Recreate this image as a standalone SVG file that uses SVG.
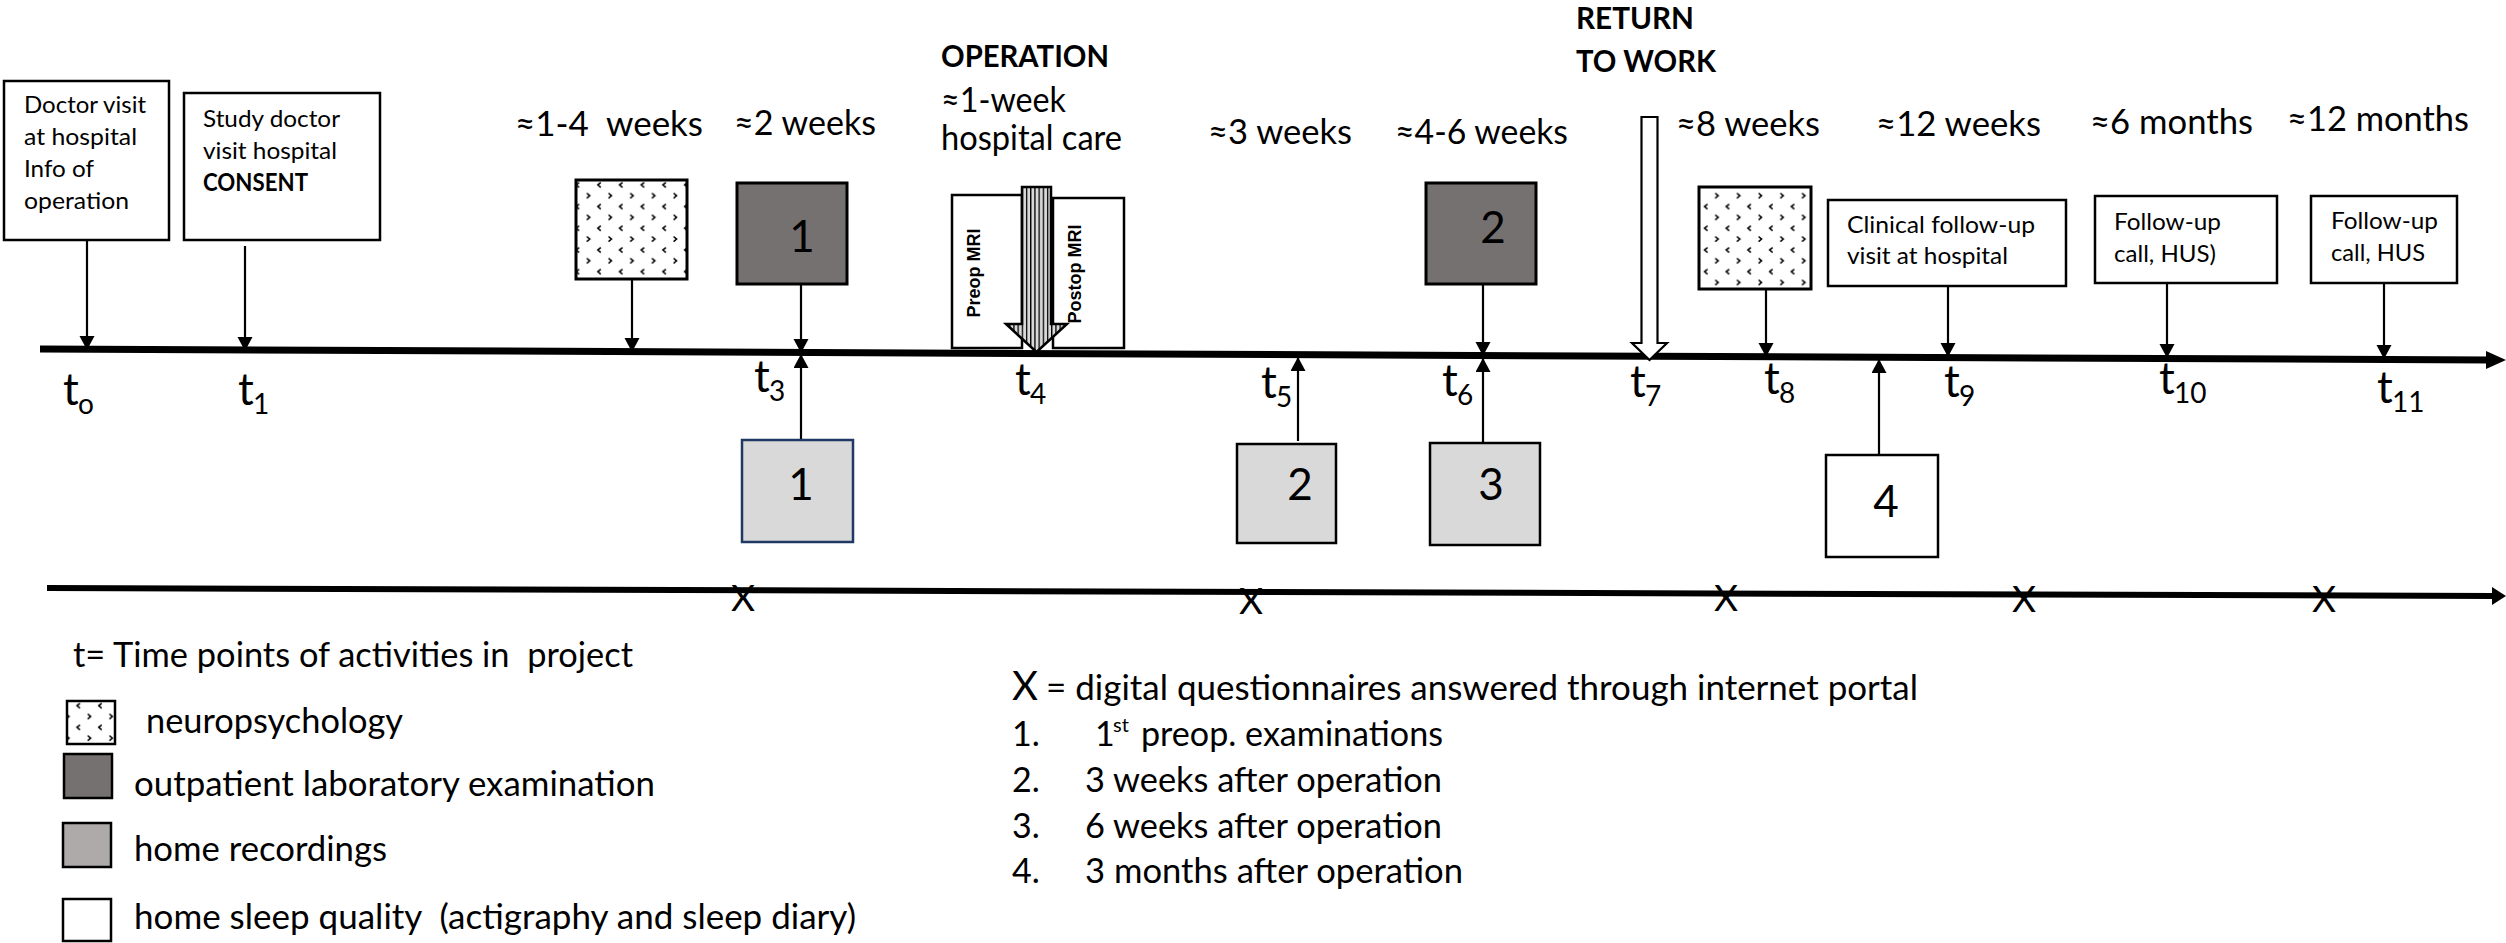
<svg xmlns="http://www.w3.org/2000/svg" width="2506" height="943" viewBox="0 0 2506 943">
<style>
text{font-family:Lato,"DejaVu Sans","Liberation Sans",sans-serif;fill:#000}
.hdr{font-size:34px}
.bld{font-size:31px;font-weight:bold}
.bx{font-size:24px}
.bxb{font-size:24px;font-weight:bold}
.num{font-size:44px;text-anchor:middle}
.tt{font-size:44px}
.ts{font-size:28px}
.lg{font-size:34px}
.mri{font-family:"Liberation Sans",Arial,sans-serif;font-size:18px;font-weight:bold;text-anchor:middle}
.xm{font-size:37px;text-anchor:middle}
.wb{fill:#fff;stroke:#000;stroke-width:2.5}
.dk{fill:#767171;stroke:#000;stroke-width:3}
.lt{fill:#d9d9d9;stroke:#000;stroke-width:2.5}
.np{fill:url(#neuro);stroke:#000;stroke-width:3}
.con{stroke:#000;stroke-width:2.2;fill:none;marker-end:url(#ah)}
</style>
<defs>
<marker id="ah" markerUnits="userSpaceOnUse" markerWidth="16" markerHeight="16" refX="14" refY="7.5" orient="auto">
<path d="M0,0 L14,7.5 L0,15 z" fill="#000"/>
</marker>
<pattern id="neuro" patternUnits="userSpaceOnUse" x="583.3" y="190.7" width="21.7" height="21.7">
<rect width="21.7" height="21.7" fill="#fff"/>
<polyline points="3.5,2.5 6.5,5 3.5,7.5" fill="none" stroke="#000" stroke-width="1.5"/>
<polyline points="17.5,13.4 14.5,15.9 17.5,18.4" fill="none" stroke="#000" stroke-width="1.5"/>
</pattern>
<pattern id="stripe" patternUnits="userSpaceOnUse" x="1021.7" y="0" width="4.2" height="10">
<rect width="4.2" height="10" fill="#d9d9d9"/>
<rect x="0" width="1.3" height="10" fill="#000"/>
</pattern>
</defs>

<g id="timelines">
<line x1="40" y1="349" x2="2490" y2="360" stroke="#000" stroke-width="7"/>
<path d="M2486,351 L2506,360 L2486,369 z" fill="#000"/>
<line x1="47" y1="588" x2="2494" y2="596" stroke="#000" stroke-width="6"/>
<path d="M2492,587 L2506,596 L2492,605 z" fill="#000"/>
</g>

<g id="connectors">
<line class="con" x1="87" y1="240" x2="87" y2="350"/>
<line class="con" x1="245" y1="246" x2="245" y2="351"/>
<line class="con" x1="632" y1="280" x2="632" y2="352"/>
<line class="con" x1="801" y1="284" x2="801" y2="353"/>
<line class="con" x1="1483" y1="284" x2="1483" y2="356"/>
<line class="con" x1="1766" y1="289" x2="1766" y2="357"/>
<line class="con" x1="1948" y1="286" x2="1948" y2="357"/>
<line class="con" x1="2167" y1="283" x2="2167" y2="358"/>
<line class="con" x1="2384" y1="283" x2="2384" y2="359"/>
<line class="con" x1="801" y1="440" x2="801" y2="354"/>
<line class="con" x1="1298" y1="441" x2="1298" y2="357"/>
<line class="con" x1="1483" y1="447" x2="1483" y2="358"/>
<line class="con" x1="1879" y1="455" x2="1879" y2="359"/>
</g>

<g id="t0-doctor-visit">
<rect class="wb" x="4" y="81" width="165" height="159"/>
<text class="bx" x="24" y="113" textLength="122" lengthAdjust="spacingAndGlyphs">Doctor visit</text>
<text class="bx" x="24" y="145" textLength="113" lengthAdjust="spacingAndGlyphs">at hospital</text>
<text class="bx" x="24" y="177" textLength="70" lengthAdjust="spacingAndGlyphs">Info of</text>
<text class="bx" x="24" y="209" textLength="105" lengthAdjust="spacingAndGlyphs">operation</text>
</g>

<g id="t1-study-doctor">
<rect class="wb" x="184" y="93" width="196" height="147"/>
<text class="bx" x="203" y="127" textLength="137" lengthAdjust="spacingAndGlyphs">Study doctor</text>
<text class="bx" x="203" y="159" textLength="134" lengthAdjust="spacingAndGlyphs">visit hospital</text>
<text class="bxb" x="203" y="191" textLength="105" lengthAdjust="spacingAndGlyphs">CONSENT</text>
</g>

<g id="neuro-1">
<text class="hdr" x="515" y="136" textLength="188" lengthAdjust="spacingAndGlyphs" xml:space="preserve">≈1-4  weeks</text>
<rect class="np" x="576" y="180" width="111" height="99"/>
</g>

<g id="lab-1">
<text class="hdr" x="734" y="135" textLength="142" lengthAdjust="spacingAndGlyphs">≈2 weeks</text>
<rect class="dk" x="737" y="183" width="110" height="101"/>
<text class="num" x="802" y="252">1</text>
</g>

<g id="operation">
<text class="bld" x="941" y="67" textLength="168" lengthAdjust="spacingAndGlyphs">OPERATION</text>
<text class="hdr" x="941" y="112" textLength="125" lengthAdjust="spacingAndGlyphs">≈1-week</text>
<text class="hdr" x="941" y="150" textLength="181" lengthAdjust="spacingAndGlyphs">hospital care</text>
<rect class="wb" x="952" y="195" width="70" height="153"/>
<rect class="wb" x="1053" y="198" width="71" height="150"/>
<text class="mri" transform="translate(980,273) rotate(-90)">Preop MRI</text>
<text class="mri" transform="translate(1081,274) rotate(-90)">Postop MRI</text>
<path d="M1022,187 L1051,187 L1051,324 L1067,324 L1036.5,352 L1006,324 L1022,324 z" fill="url(#stripe)" stroke="#000" stroke-width="2.5"/>
</g>

<g id="home-2">
<text class="hdr" x="1208" y="144" textLength="144" lengthAdjust="spacingAndGlyphs">≈3 weeks</text>
<rect class="lt" x="1237" y="444" width="99" height="99"/>
<text class="num" x="1300" y="500">2</text>
</g>

<g id="lab-2">
<text class="hdr" x="1395" y="144" textLength="173" lengthAdjust="spacingAndGlyphs">≈4-6 weeks</text>
<rect class="dk" x="1426" y="183" width="110" height="101"/>
<text class="num" x="1493" y="243">2</text>
</g>

<g id="home-1">
<rect x="742" y="440" width="111" height="102" fill="#d9d9d9" stroke="#1f3864" stroke-width="2.5"/>
<text class="num" x="801" y="500">1</text>
</g>

<g id="home-3">
<rect class="lt" x="1430" y="443" width="110" height="102"/>
<text class="num" x="1491" y="500">3</text>
</g>

<g id="return-to-work">
<text class="bld" x="1576" y="29" textLength="118" lengthAdjust="spacingAndGlyphs">RETURN</text>
<text class="bld" x="1576" y="72" textLength="140" lengthAdjust="spacingAndGlyphs">TO WORK</text>
<path d="M1641.5,117 L1657.5,117 L1657.5,343 L1667,343 L1649.5,360 L1632,343 L1641.5,343 z" fill="#fff" stroke="#000" stroke-width="2.2"/>
</g>

<g id="neuro-2">
<text class="hdr" x="1676" y="136" textLength="144" lengthAdjust="spacingAndGlyphs">≈8 weeks</text>
<rect class="np" x="1699" y="187" width="112" height="102"/>
</g>

<g id="clinical-follow-up">
<text class="hdr" x="1876" y="136" textLength="165" lengthAdjust="spacingAndGlyphs">≈12 weeks</text>
<rect class="wb" x="1828" y="200" width="238" height="86"/>
<text class="bx" x="1847" y="233" textLength="188" lengthAdjust="spacingAndGlyphs">Clinical follow-up</text>
<text class="bx" x="1847" y="264" textLength="161" lengthAdjust="spacingAndGlyphs">visit at hospital</text>
</g>

<g id="sleep-4">
<rect class="wb" x="1826" y="455" width="112" height="102"/>
<text class="num" x="1886" y="517">4</text>
</g>

<g id="follow-up-6m">
<text class="hdr" x="2090" y="134" textLength="163" lengthAdjust="spacingAndGlyphs">≈6 months</text>
<rect class="wb" x="2095" y="196" width="182" height="87"/>
<text class="bx" x="2114" y="230" textLength="107" lengthAdjust="spacingAndGlyphs">Follow-up</text>
<text class="bx" x="2114" y="262" textLength="102" lengthAdjust="spacingAndGlyphs">call, HUS)</text>
</g>

<g id="follow-up-12m">
<text class="hdr" x="2287" y="131" textLength="182" lengthAdjust="spacingAndGlyphs">≈12 months</text>
<rect class="wb" x="2311" y="196" width="146" height="87"/>
<text class="bx" x="2331" y="229" textLength="107" lengthAdjust="spacingAndGlyphs">Follow-up</text>
<text class="bx" x="2331" y="261" textLength="94" lengthAdjust="spacingAndGlyphs">call, HUS</text>
</g>

<g id="time-labels">
<text class="tt" x="63" y="405">t</text><text class="ts" x="78" y="414">o</text>
<text class="tt" x="238" y="405">t</text><text class="ts" x="253" y="414">1</text>
<text class="tt" x="754" y="392">t</text><text class="ts" x="769" y="401">3</text>
<text class="tt" x="1015" y="395">t</text><text class="ts" x="1030" y="404">4</text>
<text class="tt" x="1261" y="398">t</text><text class="ts" x="1276" y="407">5</text>
<text class="tt" x="1442" y="396">t</text><text class="ts" x="1457" y="405">6</text>
<text class="tt" x="1630" y="397">t</text><text class="ts" x="1645" y="406">7</text>
<text class="tt" x="1764" y="394">t</text><text class="ts" x="1779" y="403">8</text>
<text class="tt" x="1944" y="397">t</text><text class="ts" x="1959" y="406">9</text>
<text class="tt" x="2159" y="394">t</text><text class="ts" x="2174" y="403">10</text>
<text class="tt" x="2377" y="403">t</text><text class="ts" x="2392" y="412">11</text>
</g>

<g id="questionnaire-marks">
<text class="xm" x="743" y="611">X</text>
<text class="xm" x="1251" y="614">X</text>
<text class="xm" x="1726" y="611">X</text>
<text class="xm" x="2024" y="612">X</text>
<text class="xm" x="2324" y="612">X</text>
</g>

<g id="legend">
<text class="lg" x="73" y="667" textLength="560" lengthAdjust="spacingAndGlyphs" xml:space="preserve">t= Time points of activities in  project</text>
<rect x="67" y="701" width="48" height="43" fill="url(#neuro)" stroke="#000" stroke-width="2.5"/>
<text class="lg" x="146" y="733" textLength="257" lengthAdjust="spacingAndGlyphs">neuropsychology</text>
<rect x="64" y="754" width="48" height="44" fill="#767171" stroke="#000" stroke-width="2.5"/>
<text class="lg" x="134" y="796" textLength="521" lengthAdjust="spacingAndGlyphs">outpatient laboratory examination</text>
<rect x="63" y="823" width="48" height="44" fill="#aeaaaa" stroke="#000" stroke-width="2.5"/>
<text class="lg" x="134" y="861" textLength="253" lengthAdjust="spacingAndGlyphs">home recordings</text>
<rect x="63" y="899" width="48" height="42" fill="#fff" stroke="#000" stroke-width="2.5"/>
<text class="lg" x="134" y="929" textLength="722" lengthAdjust="spacingAndGlyphs" xml:space="preserve">home sleep quality  (actigraphy and sleep diary)</text>
</g>

<g id="legend-list">
<text x="1012" y="700" style="font-size:40px">X</text>
<text class="lg" x="1046" y="700" textLength="872" lengthAdjust="spacingAndGlyphs">= digital questionnaires answered through internet portal</text>
<text class="lg" x="1012" y="746">1.</text>
<text class="lg" x="1095" y="746">1</text>
<text x="1113" y="732" style="font-size:20px">st</text>
<text class="lg" x="1141" y="746" textLength="302" lengthAdjust="spacingAndGlyphs">preop. examinations</text>
<text class="lg" x="1012" y="792">2.</text>
<text class="lg" x="1085" y="792" textLength="357" lengthAdjust="spacingAndGlyphs">3 weeks after operation</text>
<text class="lg" x="1012" y="838">3.</text>
<text class="lg" x="1085" y="838" textLength="357" lengthAdjust="spacingAndGlyphs">6 weeks after operation</text>
<text class="lg" x="1012" y="883">4.</text>
<text class="lg" x="1085" y="883" textLength="378" lengthAdjust="spacingAndGlyphs">3 months after operation</text>
</g>
</svg>
